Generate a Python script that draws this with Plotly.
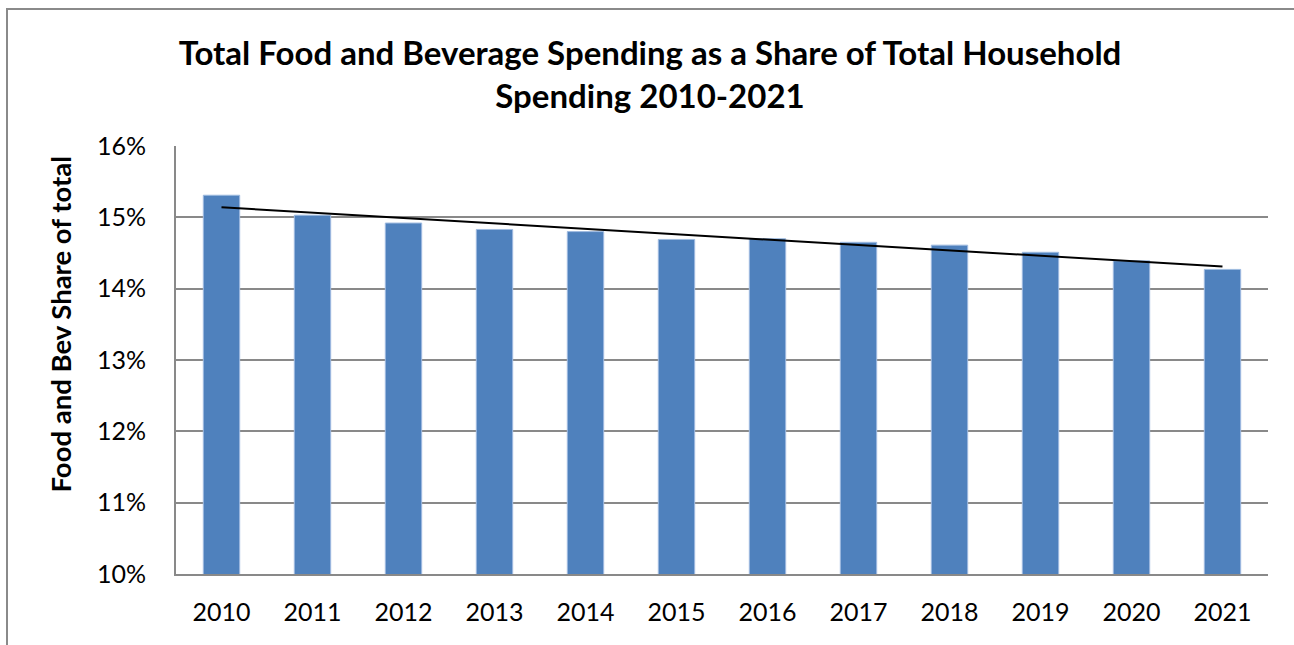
import numpy as np
import plotly.graph_objects as go

years = ["2010", "2011", "2012", "2013", "2014", "2015", "2016", "2017", "2018", "2019", "2020", "2021"]
share_pct = [15.31, 15.03, 14.92, 14.83, 14.80, 14.69, 14.70, 14.65, 14.61, 14.51, 14.39, 14.27]
y_ticks = [10, 11, 12, 13, 14, 15, 16]
y_tick_labels = ["10%", "11%", "12%", "13%", "14%", "15%", "16%"]

# linear trendline (least squares fit of the series)
idx = np.arange(len(years))
slope, intercept = np.polyfit(idx, share_pct, 1)
trend = [intercept + slope * i for i in idx]

FONT = "Lato"
GRID = "#898989"

fig = go.Figure()
fig.add_trace(go.Bar(
    x=years, y=share_pct,
    marker=dict(color="#4F81BD", line=dict(color="#9fbbe0", width=1)),
    width=0.4, showlegend=False, hoverinfo="x+y",
))
fig.add_trace(go.Scatter(
    x=years, y=trend, mode="lines",
    line=dict(color="#000000", width=2), showlegend=False, hoverinfo="skip",
))

fig.update_layout(
    width=1294, height=645,
    margin=dict(l=176, r=26, t=146, b=71),
    paper_bgcolor="white", plot_bgcolor="white",
    font=dict(family=FONT, color="#000000"),
    title=dict(
        text="<b>Total Food and Beverage Spending as a Share of Total Household<br>Spending 2010-2021</b>",
        x=650 / 1294, xanchor="center", y=1 - 65 / 645, yanchor="middle", yref="container",
        font=dict(family=FONT, size=33, color="#000000"),
    ),
    bargap=0.6,
)
fig.update_xaxes(
    type="category", showgrid=False, showline=True, linecolor=GRID, linewidth=2,
    ticks="", tickfont=dict(family=FONT, size=25, color="#000000"),
    ticklabelstandoff=15,
)
fig.update_yaxes(
    range=[10, 16], tickvals=y_ticks, ticktext=y_tick_labels,
    showgrid=True, gridcolor=GRID, gridwidth=2,
    showline=True, linecolor=GRID, linewidth=2, zeroline=False,
    ticks="", tickfont=dict(family=FONT, size=25, color="#000000"),
    ticklabelstandoff=23,
)
# y-axis title (placed to match the reference's vertical offset)
fig.add_annotation(
    text="<b>Food and Bev Share of total</b>", textangle=-90,
    xref="paper", yref="paper", x=(60 - 176) / 1092, y=(574 - 324.5) / 428,
    xanchor="center", yanchor="middle", showarrow=False,
    font=dict(family=FONT, size=27.5, color="#000000"),
)
# outer chart border
fig.add_shape(type="rect", xref="paper", yref="paper",
              x0=(7 - 176) / 1092, x1=1.2, y0=-0.3, y1=(574 - 9) / 428,
              line=dict(color="#8a8a8a", width=2), fillcolor="rgba(0,0,0,0)", layer="below")

fig.write_html("out.html")
